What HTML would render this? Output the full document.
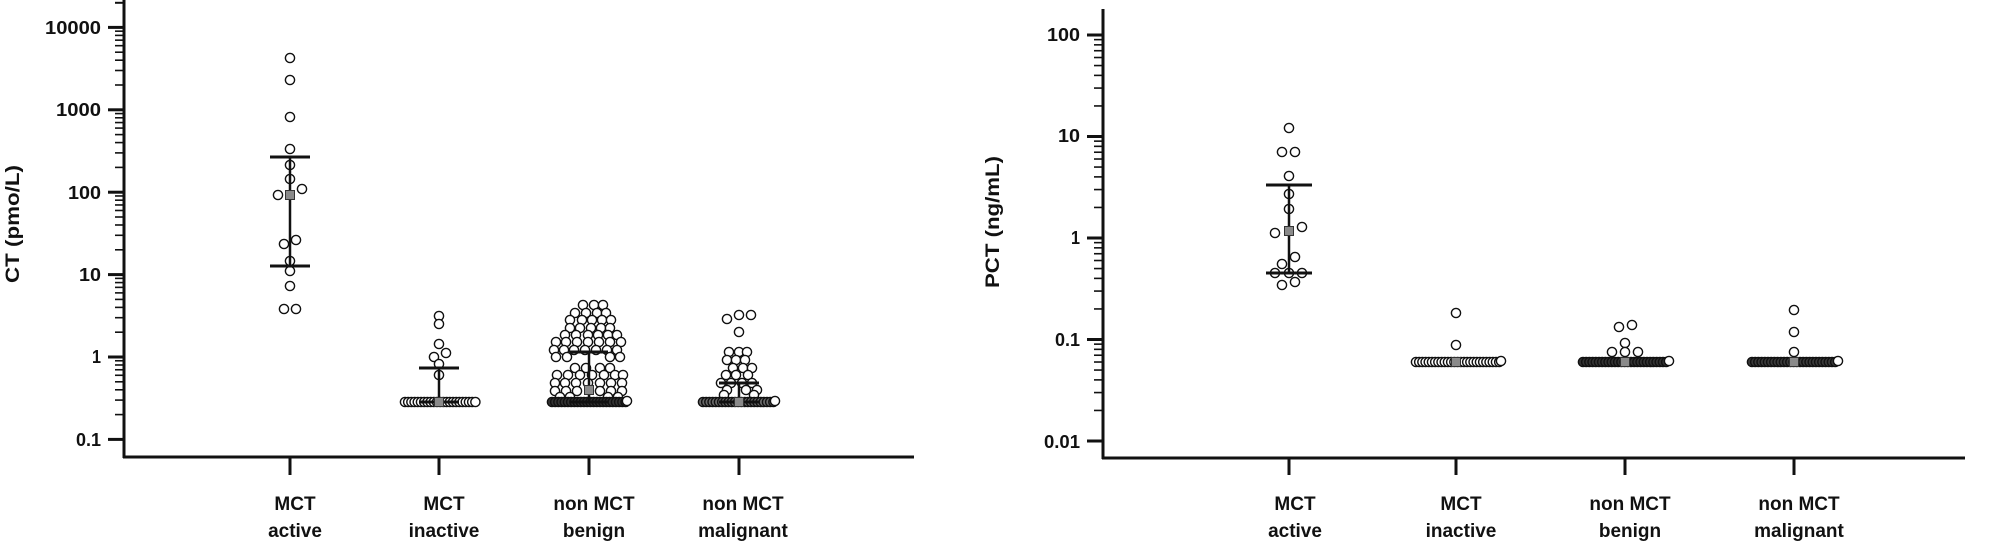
<!DOCTYPE html>
<html><head><meta charset="utf-8"><style>
html,body{margin:0;padding:0;background:#fff;}
svg{display:block;}
text{font-family:"Liberation Sans",sans-serif;font-weight:bold;fill:#111;}
</style></head><body>
<svg id="s" width="1993" height="544" viewBox="0 0 1993 544" xmlns="http://www.w3.org/2000/svg">
<line x1="124" y1="0" x2="124" y2="458" stroke="#111" stroke-width="3"/>
<line x1="123" y1="457" x2="914" y2="457" stroke="#111" stroke-width="3"/>
<line x1="1103" y1="9" x2="1103" y2="459" stroke="#111" stroke-width="3"/>
<line x1="1102" y1="458" x2="1965" y2="458" stroke="#111" stroke-width="3"/>
<g id="ticks"></g>
<g id="pts"></g>
<g font-size="18" text-anchor="end">
<text x="101" y="34" textLength="56" lengthAdjust="spacingAndGlyphs">10000</text>
<text x="101" y="116" textLength="45" lengthAdjust="spacingAndGlyphs">1000</text>
<text x="101" y="199" textLength="33" lengthAdjust="spacingAndGlyphs">100</text>
<text x="101" y="281" textLength="22" lengthAdjust="spacingAndGlyphs">10</text>
<text x="101" y="363" textLength="9" lengthAdjust="spacingAndGlyphs">1</text>
<text x="101" y="446" textLength="25" lengthAdjust="spacingAndGlyphs">0.1</text>
<text x="1080" y="41" textLength="33" lengthAdjust="spacingAndGlyphs">100</text>
<text x="1080" y="142" textLength="22" lengthAdjust="spacingAndGlyphs">10</text>
<text x="1080" y="244" textLength="9" lengthAdjust="spacingAndGlyphs">1</text>
<text x="1080" y="346" textLength="25" lengthAdjust="spacingAndGlyphs">0.1</text>
<text x="1080" y="448" textLength="36" lengthAdjust="spacingAndGlyphs">0.01</text>
</g>
<text transform="translate(19,224) rotate(-90)" font-size="19" text-anchor="middle" textLength="118" lengthAdjust="spacingAndGlyphs">CT  (pmo/L)</text>
<text transform="translate(999,222) rotate(-90)" font-size="19" text-anchor="middle" textLength="132" lengthAdjust="spacingAndGlyphs">PCT  (ng/mL)</text>
<g font-size="19" text-anchor="middle">
<text x="295" y="510">MCT</text><text x="295" y="537">active</text>
<text x="444" y="510">MCT</text><text x="444" y="537">inactive</text>
<text x="594" y="510">non MCT</text><text x="594" y="537">benign</text>
<text x="743" y="510">non MCT</text><text x="743" y="537">malignant</text>
<text x="1295" y="510">MCT</text><text x="1295" y="537">active</text>
<text x="1461" y="510">MCT</text><text x="1461" y="537">inactive</text>
<text x="1630" y="510">non MCT</text><text x="1630" y="537">benign</text>
<text x="1799" y="510">non MCT</text><text x="1799" y="537">malignant</text>
</g>
</svg>
<script>
var NS="http://www.w3.org/2000/svg";
function el(p,n,a){var e=document.createElementNS(NS,n);for(var k in a)e.setAttribute(k,a[k]);document.getElementById(p).appendChild(e);return e;}
function ln(x1,y1,x2,y2,w,g){el(g||"ticks","line",{x1:x1,y1:y1,x2:x2,y2:y2,stroke:"#111","stroke-width":w||2});}
for(var d=-1;d<=4;d++){for(var m=1;m<=9;m++){var v=m*Math.pow(10,d);var y=357-82.4*Math.log10(v);if(y<1)continue;ln(m==1?108:115,y,124,y,m==1?3:1.6);}}
ln(115,3,124,3,1.6);
for(var d=-2;d<=2;d++){for(var m=1;m<=9;m++){var v=m*Math.pow(10,d);var y=238-101.5*Math.log10(v);if(y<9)continue;ln(m==1?1087:1094,y,1103,y,m==1?3:1.6);}}
[290,439,589,739,1289,1456,1625,1794].forEach(function(x){ln(x,457,x,475,3);});
function c(x,y,f){el("pts","circle",{cx:x,cy:y,r:4.6,fill:f||"#fff",stroke:"#111","stroke-width":1.4});}
function whisk(x,y1,y2,h){ln(x,y1,x,y2,2.5,"pts");ln(x-h,y1,x+h,y1,3,"pts");ln(x-h,y2,x+h,y2,3,"pts");}
function sq(x,y){el("pts","rect",{x:x-4.5,y:y-4.5,width:9,height:9,fill:"#8a8a8a",stroke:"#333","stroke-width":1});}
function row(x1,x2,y,f,last){for(var x=x1;x<=x2;x+=3.2)c(x,y,f);if(last)c(x2+1,y-1,"#fff");}
[[290,58],[290,80],[290,117],[290,149],[290,165],[290,179],[278,195],[302,189],[284,244],[296,240],[290,261],[290,271],[290,286],[284,309],[296,309]].forEach(function(p){c(p[0],p[1]);});
whisk(290,157,266,20);sq(290,195);
row(405,477,402,"#fff");
[[439,316],[439,324],[439,344],[434,357],[446,353],[439,364],[439,375]].forEach(function(p){c(p[0],p[1]);});
whisk(439,368,402,20);sq(439,402);
var B=[[305,[583,594,603]],[313,[575,586,597,606]],[320,[570,582,592,602,611]],[328,[570,580,591,601,610]],[335,[565,576,588,598,608,617]],[342,[556,566,577,588,599,610,621]],[350,[554,564,574,585,596,607,617]],[357,[556,567,610,620]],[368,[575,586,600,610]],[375,[557,568,580,592,604,615,623]],[383,[555,565,576,588,600,611,622]],[391,[555,566,577,600,611,622]],[397,[560,570,608,618]]];
B.forEach(function(r){r[1].forEach(function(x){c(x,r[0]);});});
row(552,626,402,"#333",true);
whisk(589,352,402,19);sq(589,390);
var M=[[315,[739,751]],[319,[727]],[332,[739]],[352,[729,739,747]],[360,[727,736,745]],[368,[733,743,752]],[375,[726,736,748]],[383,[721,731,742,752]],[390,[727,746,757]],[395,[724,754]]];
M.forEach(function(r){r[1].forEach(function(x){c(x,r[0]);});});
row(703,774,402,"#6a6a6a",true);
whisk(739,383,402,20);sq(739,402);
[[1289,128],[1282,152],[1295,152],[1289,176],[1289,194],[1289,209],[1275,233],[1302,227],[1295,257],[1282,264],[1275,273],[1289,273],[1302,273],[1282,285],[1295,282]].forEach(function(p){c(p[0],p[1]);});
whisk(1289,185,273,23);sq(1289,231);
row(1416,1500,362,"#fff",true);
c(1456,313);c(1456,345);sq(1456,362);
[[1619,327],[1632,325],[1625,343],[1612,352],[1625,352],[1638,352]].forEach(function(p){c(p[0],p[1]);});
row(1583,1668,362,"#333",true);sq(1625,362);
c(1794,310);c(1794,332);c(1794,352);
row(1752,1837,362,"#3a3a3a",true);sq(1794,362);
</script>
</body></html>
